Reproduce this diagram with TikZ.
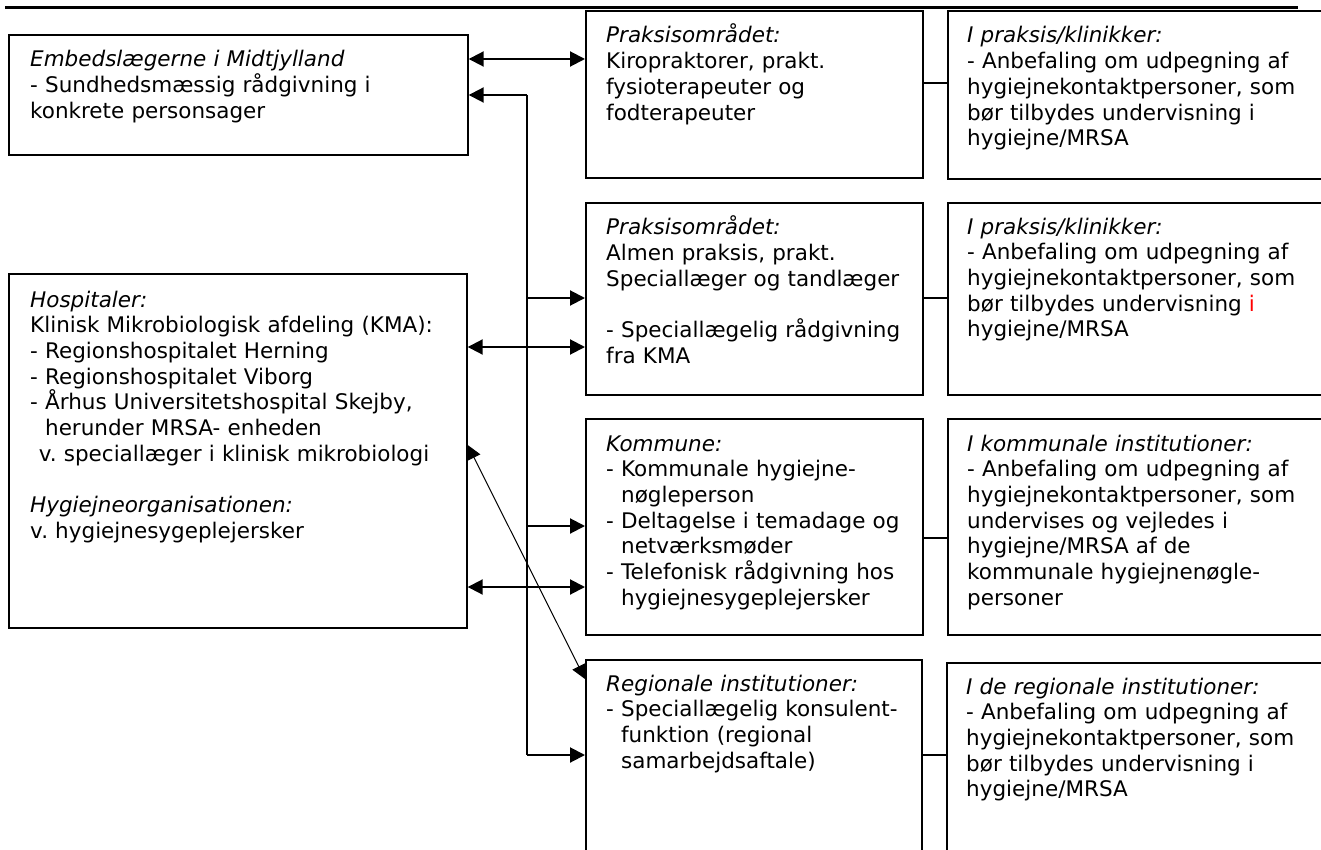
\documentclass[tikz,border=0pt]{standalone}
\usepackage{fontspec}
\setmainfont{DejaVu Sans}
\usetikzlibrary{arrows.meta,calc}
\newcommand\hind{\phantom{- }}
\frenchspacing
\begin{document}
\begin{tikzpicture}[x=1pt,y=-1pt,
  box/.style={draw=black, line width=1.7pt, rectangle, inner sep=0pt, anchor=north west},
  txt/.style={anchor=base west, inner sep=0pt, text width=470pt, align=left,
              font=\fontsize{21.5}{25.7}\selectfont\frenchspacing},
  arr/.style={line width=2pt, -{Triangle[length=15pt,width=15pt]}},
  dbl/.style={line width=2pt, {Triangle[length=15pt,width=15pt]}-{Triangle[length=15pt,width=15pt]}},
  diag/.style={line width=1pt, {Triangle[length=14pt,width=14pt]}-{Triangle[length=14pt,width=14pt]}},
  conn/.style={line width=1.5pt},
  bus/.style={line width=2pt}]
\useasboundingbox (0,0) rectangle (1321,850);
\clip (0,0) rectangle (1321,850);
\fill[white] (0,0) rectangle (1321,850);

% top rule
\draw[line width=3pt] (5,8) -- (1298,8);

% left boxes
\node[box, minimum width=459pt, minimum height=120pt] (emb) at (8,34) {};
\node[box, minimum width=458pt, minimum height=354pt] (hosp) at (8,273) {};
% middle boxes
\node[box, minimum width=337pt, minimum height=167pt] (p1) at (585,10) {};
\node[box, minimum width=337pt, minimum height=192pt] (p2) at (585,202) {};
\node[box, minimum width=337pt, minimum height=216pt] (kom) at (585,418) {};
\node[box, minimum width=336pt, minimum height=210pt] (reg) at (585,659) {};
% right boxes
\node[box, minimum width=390pt, minimum height=168pt] (r1) at (947,10) {};
\node[box, minimum width=390pt, minimum height=192pt] (r2) at (947,202) {};
\node[box, minimum width=390pt, minimum height=216pt] (r3) at (947,418) {};
\node[box, minimum width=390pt, minimum height=210pt] (r4) at (946,662) {};

% texts
\node[txt] (embT) at ([xshift=22pt,yshift=-33pt]emb.north west) {\textit{Embedslægerne i Midtjylland}\\
- Sundhedsmæssig rådgivning i\\
konkrete personsager};
\node[txt] (hospT) at ([xshift=22pt,yshift=-34pt]hosp.north west) {\textit{Hospitaler:}\\
Klinisk Mikrobiologisk afdeling (KMA):\\
- Regionshospitalet Herning\\
- Regionshospitalet Viborg\\
- Århus Universitetshospital Skejby,\\
\hind herunder MRSA- enheden\\
\hspace*{0.4em}v. speciallæger i klinisk mikrobiologi\\[25.7pt]
\textit{Hygiejneorganisationen:}\\
v. hygiejnesygeplejersker};
\node[txt] (p1T) at ([xshift=21pt,yshift=-33pt]p1.north west) {\textit{Praksisområdet:}\\
Kiropraktorer, prakt.\\
fysioterapeuter og\\
fodterapeuter};
\node[txt] (p2T) at ([xshift=21pt,yshift=-33pt]p2.north west) {\textit{Praksisområdet:}\\
Almen praksis, prakt.\\
Speciallæger og tandlæger\\[25.7pt]
- Speciallægelig rådgivning\\
fra KMA};
\node[txt] (komT) at ([xshift=21pt,yshift=-33pt]kom.north west) {\textit{Kommune:}\\
- Kommunale hygiejne-\\
\hind nøgleperson\\
- Deltagelse i temadage og\\
\hind netværksmøder\\
- Telefonisk rådgivning hos\\
\hind hygiejnesygeplejersker};
\node[txt] (regT) at ([xshift=21pt,yshift=-32pt]reg.north west) {\textit{Regionale institutioner:}\\
- Speciallægelig konsulent-\\
\hind funktion (regional\\
\hind samarbejdsaftale)};
\node[txt] (r1T) at ([xshift=20pt,yshift=-33pt]r1.north west) {\textit{I praksis/klinikker:}\\
- Anbefaling om udpegning af\\
hygiejnekontaktpersoner, som\\
bør tilbydes undervisning i\\
hygiejne/MRSA};
\node[txt] (r2T) at ([xshift=20pt,yshift=-32pt]r2.north west) {\textit{I praksis/klinikker:}\\
- Anbefaling om udpegning af\\
hygiejnekontaktpersoner, som\\
bør tilbydes undervisning \textcolor{red}{i}\\
hygiejne/MRSA};
\node[txt] (r3T) at ([xshift=20pt,yshift=-33pt]r3.north west) {\textit{I kommunale institutioner:}\\
- Anbefaling om udpegning af\\
hygiejnekontaktpersoner, som\\
undervises og vejledes i\\
hygiejne/MRSA af de\\
kommunale hygiejnenøgle-\\
personer};
\node[txt] (r4T) at ([xshift=20pt,yshift=-32pt]r4.north west) {\textit{I de regionale institutioner:}\\
- Anbefaling om udpegning af\\
hygiejnekontaktpersoner, som\\
bør tilbydes undervisning i\\
hygiejne/MRSA};

% helper coordinates
\coordinate (y1) at (0,59);
\coordinate (bt) at (527,95);
\coordinate (b2) at (527,298);
\coordinate (b3) at (527,526);
\coordinate (bb) at (527,755);
\coordinate (y3) at (0,347);
\coordinate (y4) at (0,587);
\coordinate (d1) at (0,445);
\coordinate (d2) at (0,679);
\coordinate (c1) at (0,83);
\coordinate (c2) at (0,298);
\coordinate (c3) at (0,538);
\coordinate (c4) at (0,755);

% connectors
\draw[dbl] (y1 -| emb.east) -- (y1 -| p1.west);
\draw[arr] (bt) -- (bt -| emb.east);
\draw[bus] (bt) -- (bb);
\draw[arr] (b2) -- (b2 -| p2.west);
\draw[arr] (b3) -- (b3 -| kom.west);
\draw[arr] (bb) -- (bb -| reg.west);
\draw[dbl] (y3 -| hosp.east) -- (y3 -| p2.west);
\draw[dbl] (y4 -| hosp.east) -- (y4 -| kom.west);
\draw[diag] (d1 -| hosp.east) -- (d2 -| reg.west);

\draw[conn] (c1 -| p1.east) -- (c1 -| r1.west);
\draw[conn] (c2 -| p2.east) -- (c2 -| r2.west);
\draw[conn] (c3 -| kom.east) -- (c3 -| r3.west);
\draw[conn] (c4 -| reg.east) -- (c4 -| r4.west);
\end{tikzpicture}
\end{document}
